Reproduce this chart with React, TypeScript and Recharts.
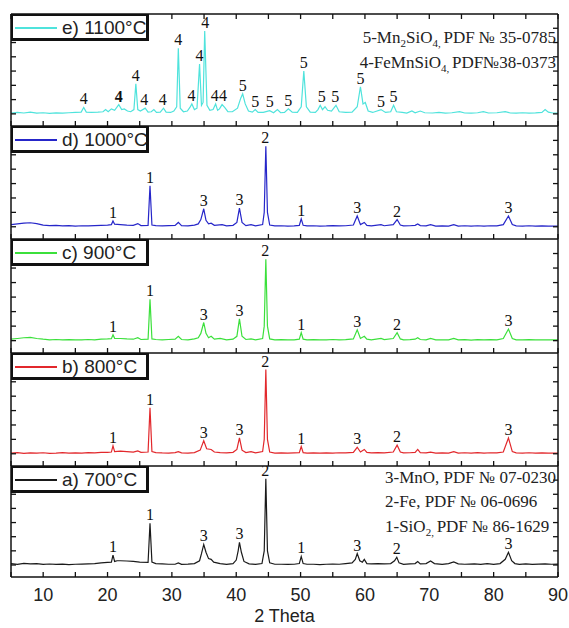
import React from 'react';
import { ComposedChart, Line, Scatter, XAxis, YAxis } from 'recharts';

// 2 Theta ticks (every 5 deg, labels on tens) and intensity ticks (arb. units)
const xTicks = [5, 10, 15, 20, 25, 30, 35, 40, 45, 50, 55, 60, 65, 70, 75, 80, 85, 90];
const yTicks = [0, 1, 2, 3, 4, 5, 6];

const legendLabels = ['e) 1100°C', 'd) 1000°C', 'c) 900°C', 'b) 800°C', 'a) 700°C'];
const seriesColors = ['#4fe3dc', '#2626c9', '#3be03b', '#e2282c', '#1a1a1a'];

type Pt = [number, number];

const pattern1100: Pt[] = [
  [5, 0.05], [6, 0.1], [7, 0.06], [8, 0.12], [9, 0.05], [10, 0.08], [11, 0.04], [12, 0.07], [13, 0.05],
  [14, 0.08], [15, 0.1], [15.9, 0.12], [16.3, 0.45], [16.7, 0.12], [17.5, 0.1], [18.5, 0.12], [19.3, 0.15],
  [19.7, 0.3], [20.1, 0.15], [20.6, 0.35], [21.1, 0.25], [21.75, 0.65], [22.2, 0.3], [22.6, 0.35], [23.1, 0.2],
  [23.6, 0.15], [24.1, 0.3], [24.4, 2.1], [24.7, 0.3], [25.1, 0.2], [25.85, 0.4], [26.3, 0.12], [26.8, 0.15],
  [27.2, 0.3], [27.6, 0.1], [28.2, 0.12], [28.7, 0.4], [29.1, 0.12], [29.8, 0.1], [30.3, 0.2], [30.75, 0.5],
  [31.0, 4.6], [31.3, 0.4], [31.8, 0.15], [32.4, 0.2], [32.8, 0.45], [33.1, 0.7], [33.5, 0.3], [33.9, 0.4],
  [34.3, 3.5], [34.6, 0.6], [34.85, 0.8], [35.1, 5.8], [35.45, 0.6], [35.9, 0.25], [36.4, 0.3], [36.8, 0.7],
  [37.1, 0.25], [37.4, 0.35], [37.8, 0.65], [38.2, 0.45], [38.7, 0.15], [39.4, 0.15], [40.2, 0.4], [40.7, 1.1],
  [41.0, 1.4], [41.4, 0.7], [41.9, 0.2], [42.5, 0.12], [42.95, 0.3], [43.4, 0.1], [44.2, 0.1], [45.2, 0.22],
  [45.8, 0.08], [46.4, 0.3], [46.9, 0.08], [47.5, 0.1], [48.1, 0.35], [48.7, 0.12], [49.5, 0.1], [50.1, 0.5],
  [50.5, 3.0], [50.9, 0.5], [51.5, 0.12], [52.3, 0.1], [52.7, 0.3], [53.05, 0.6], [53.4, 0.3], [53.8, 0.5],
  [54.2, 0.25], [54.8, 0.2], [55.5, 0.6], [56, 0.15], [57, 0.1], [58, 0.12], [58.8, 0.5], [59.3, 1.9],
  [59.7, 0.7], [60.05, 0.8], [60.5, 0.2], [61.2, 0.1], [62.5, 0.3], [63.2, 0.1], [64, 0.15], [64.45, 0.6],
  [64.9, 0.15], [65.8, 0.1], [66.5, 0.05], [67.3, 0.2], [67.8, 0.08], [68.6, 0.2], [69.3, 0.08], [70.5, 0.06],
  [71.5, 0.1], [72.5, 0.05], [73.5, 0.08], [74.7, 0.15], [75.5, 0.06], [76.5, 0.05], [77.5, 0.08], [78.4, 0.15],
  [79.2, 0.06], [80.5, 0.08], [81.8, 0.15], [82.6, 0.06], [83.5, 0.05], [84.5, 0.08], [85.5, 0.05], [86.5, 0.07],
  [87.5, 0.1], [88, 0.3], [88.5, 0.12], [89.2, 0.06], [90, 0.05],
];

const pattern1000: Pt[] = [
  [5, 0.15], [6, 0.2], [7, 0.25], [8, 0.28], [9, 0.22], [10, 0.12], [11, 0.08], [12, 0.1], [13, 0.06],
  [14, 0.08], [15, 0.05], [16, 0.07], [17, 0.06], [18, 0.08], [19, 0.1], [20, 0.12], [20.6, 0.15],
  [20.85, 0.4], [21.1, 0.18], [22, 0.15], [23, 0.12], [24, 0.1], [24.7, 0.22], [25.2, 0.08], [26.3, 0.1],
  [26.6, 2.85], [26.9, 0.12], [27.5, 0.08], [28.5, 0.06], [29.5, 0.08], [30.5, 0.1], [31, 0.3], [31.5, 0.08],
  [32.5, 0.06], [33.5, 0.12], [34.1, 0.2], [34.5, 0.5], [34.95, 1.25], [35.3, 0.45], [35.7, 0.2], [36.1, 0.25],
  [36.6, 0.1], [37.8, 0.15], [38.5, 0.06], [39.5, 0.1], [40.1, 0.3], [40.5, 1.3], [40.9, 0.3], [41.5, 0.08],
  [42.3, 0.15], [43, 0.06], [44.1, 0.15], [44.35, 1.0], [44.6, 5.6], [44.85, 1.0], [45.2, 0.12], [46, 0.06],
  [47, 0.07], [48, 0.05], [49, 0.06], [49.8, 0.1], [50.1, 0.55], [50.4, 0.1], [51, 0.06], [52, 0.07],
  [53, 0.05], [54, 0.06], [55, 0.08], [56, 0.06], [57, 0.07], [58.2, 0.12], [58.8, 0.75], [59.3, 0.15],
  [59.9, 0.3], [60.3, 0.1], [61, 0.06], [62.5, 0.15], [63, 0.07], [64.4, 0.15], [65, 0.5], [65.5, 0.12],
  [66, 0.06], [67, 0.07], [67.8, 0.1], [68.2, 0.2], [68.6, 0.08], [69.5, 0.06], [70.2, 0.15], [71, 0.05],
  [72, 0.06], [73, 0.05], [73.8, 0.15], [74.5, 0.05], [75.5, 0.07], [76.5, 0.04], [77.5, 0.07], [78.5, 0.05],
  [79.5, 0.07], [80.5, 0.06], [81.5, 0.15], [82.3, 0.75], [82.9, 0.15], [83.5, 0.06], [84.5, 0.05], [85.5, 0.07],
  [86.5, 0.05], [87.5, 0.06], [88.5, 0.05], [90, 0.05],
];

const pattern900: Pt[] = [
  [5, 0.1], [6, 0.15], [7, 0.2], [8, 0.22], [9, 0.15], [10, 0.1], [11, 0.06], [12, 0.08], [13, 0.05],
  [14, 0.07], [15, 0.05], [16, 0.06], [17, 0.08], [18, 0.06], [19, 0.1], [20, 0.12], [20.6, 0.14],
  [20.85, 0.4], [21.1, 0.16], [22, 0.15], [23, 0.12], [24, 0.1], [24.7, 0.2], [25.2, 0.08], [26.3, 0.1],
  [26.6, 2.85], [26.9, 0.12], [27.5, 0.08], [28.5, 0.06], [29.5, 0.08], [30.5, 0.1], [31, 0.3], [31.5, 0.08],
  [32.5, 0.06], [33.5, 0.12], [34.1, 0.2], [34.5, 0.5], [34.95, 1.25], [35.3, 0.5], [35.7, 0.2], [36.1, 0.3],
  [36.6, 0.1], [37.5, 0.15], [38.5, 0.06], [39.5, 0.1], [40.1, 0.3], [40.5, 1.5], [40.9, 0.3], [41.5, 0.08],
  [42.3, 0.12], [43, 0.06], [44.1, 0.15], [44.35, 1.0], [44.6, 5.6], [44.85, 1.0], [45.2, 0.12], [46, 0.06],
  [47, 0.07], [48, 0.05], [49, 0.06], [49.8, 0.1], [50.1, 0.55], [50.4, 0.1], [51, 0.06], [52, 0.07],
  [53, 0.05], [54, 0.06], [55, 0.08], [56, 0.06], [57, 0.07], [58.2, 0.12], [58.8, 0.75], [59.3, 0.15],
  [59.9, 0.3], [60.3, 0.1], [61, 0.06], [62.5, 0.15], [63, 0.07], [64.4, 0.15], [65, 0.55], [65.5, 0.12],
  [66, 0.06], [67, 0.07], [67.8, 0.1], [68.2, 0.2], [68.6, 0.08], [69.5, 0.06], [70.2, 0.15], [71, 0.05],
  [72, 0.06], [73, 0.05], [73.8, 0.15], [74.5, 0.05], [75.5, 0.07], [76.5, 0.04], [77.5, 0.07], [78.5, 0.05],
  [79.5, 0.07], [80.5, 0.06], [81.5, 0.15], [82.3, 0.8], [82.9, 0.15], [83.5, 0.06], [84.5, 0.05], [85.5, 0.07],
  [86.5, 0.05], [87.5, 0.06], [88.5, 0.05], [90, 0.05],
];

const pattern800: Pt[] = [
  [5, 0.05], [6, 0.08], [7, 0.03], [8, 0.06], [9, 0.04], [10, 0.07], [11, 0.03], [12, 0.05], [13, 0.08],
  [14, 0.04], [15, 0.06], [16, 0.05], [17, 0.08], [18, 0.06], [19, 0.1], [20, 0.1], [20.6, 0.12],
  [20.85, 0.55], [21.1, 0.15], [22, 0.18], [23, 0.15], [24, 0.12], [24.7, 0.2], [25.2, 0.1], [26.3, 0.12],
  [26.6, 3.2], [26.9, 0.15], [27.5, 0.08], [28.5, 0.06], [29.5, 0.05], [30.5, 0.08], [31, 0.15], [31.5, 0.06],
  [32.5, 0.05], [33.5, 0.08], [34.4, 0.25], [34.95, 0.9], [35.4, 0.35], [36.1, 0.3], [36.6, 0.12], [37.5, 0.08],
  [38.5, 0.06], [39.5, 0.1], [40.1, 0.3], [40.5, 1.1], [40.9, 0.25], [41.5, 0.08], [42.3, 0.15], [43, 0.06],
  [44.1, 0.15], [44.35, 1.0], [44.6, 5.85], [44.85, 1.0], [45.2, 0.12], [46, 0.05], [47, 0.06], [48, 0.04],
  [49, 0.06], [49.8, 0.08], [50.1, 0.5], [50.4, 0.08], [51, 0.05], [52, 0.06], [53, 0.04], [54, 0.06],
  [55, 0.05], [56, 0.07], [57, 0.06], [58.2, 0.1], [58.8, 0.45], [59.3, 0.12], [59.9, 0.3], [60.3, 0.1],
  [61, 0.06], [62, 0.08], [63, 0.06], [64.4, 0.12], [65, 0.6], [65.5, 0.12], [66, 0.06], [67, 0.07],
  [67.8, 0.1], [68.2, 0.3], [68.6, 0.08], [69.5, 0.06], [70.2, 0.12], [71, 0.05], [72, 0.06], [73, 0.05],
  [73.8, 0.15], [74.5, 0.05], [75.5, 0.07], [76.5, 0.04], [77.5, 0.08], [78.5, 0.05], [79.5, 0.07], [80.5, 0.06],
  [81.5, 0.12], [82.3, 1.1], [82.9, 0.15], [83.5, 0.06], [84.5, 0.05], [85.5, 0.07], [86.5, 0.04], [87.5, 0.06],
  [88.5, 0.05], [90, 0.05],
];

const pattern700: Pt[] = [
  [5, 0.1], [6, 0.05], [7, 0.12], [8, 0.08], [9, 0.1], [10, 0.05], [11, 0.07], [12, 0.04], [13, 0.06],
  [14, 0.03], [15, 0.05], [16, 0.06], [17, 0.08], [18, 0.1], [19, 0.15], [20, 0.18], [20.6, 0.2],
  [20.85, 0.7], [21.1, 0.25], [21.5, 0.3], [22, 0.3], [23, 0.28], [24, 0.25], [25, 0.2], [26.3, 0.18],
  [26.6, 2.95], [26.9, 0.2], [27.5, 0.1], [28.5, 0.08], [29.5, 0.05], [30.5, 0.05], [31, 0.15], [31.5, 0.05],
  [32.5, 0.06], [33.5, 0.1], [34.3, 0.3], [34.6, 0.8], [34.95, 1.45], [35.3, 0.9], [35.7, 0.45], [36.1, 0.4],
  [36.5, 0.2], [37.5, 0.1], [38.5, 0.05], [39.5, 0.1], [40.0, 0.35], [40.3, 1.0], [40.5, 1.6], [40.8, 0.9],
  [41.2, 0.25], [42, 0.08], [43, 0.05], [44.0, 0.1], [44.35, 1.0], [44.6, 6.1], [44.85, 1.0], [45.2, 0.15],
  [46, 0.05], [47, 0.05], [48, 0.04], [49, 0.05], [49.8, 0.1], [50.1, 0.6], [50.4, 0.1], [51, 0.05],
  [52, 0.05], [53, 0.03], [54, 0.05], [55, 0.06], [56, 0.05], [57, 0.1], [58, 0.15], [58.5, 0.4],
  [58.8, 0.8], [59.2, 0.3], [59.6, 0.2], [59.9, 0.4], [60.3, 0.1], [61, 0.08], [62, 0.1], [63, 0.08],
  [64, 0.1], [64.6, 0.3], [64.95, 0.55], [65.3, 0.15], [66, 0.05], [67, 0.08], [67.8, 0.1], [68.2, 0.25],
  [68.6, 0.08], [69.5, 0.1], [70.2, 0.28], [70.8, 0.1], [72, 0.05], [73, 0.1], [73.8, 0.22], [74.5, 0.08],
  [75.5, 0.05], [77, 0.08], [78, 0.05], [79, 0.1], [80, 0.05], [81, 0.1], [81.8, 0.4], [82.3, 0.9],
  [82.8, 0.3], [83.3, 0.1], [84, 0.05], [85, 0.08], [86, 0.04], [87, 0.06], [88, 0.08], [89, 0.05], [90, 0.06],
];

// peak labels: [2 theta, intensity at label, phase number]
type Mark = [number, number, string];

const peaks1100: Mark[] = [
  [16.3, 0.45, '4'], [21.75, 0.65, '4'], [24.4, 2.1, '4'], [25.7, 0.4, '4'], [28.6, 0.4, '4'],
  [31.0, 4.6, '4'], [33.05, 0.7, '4'], [34.3, 3.5, '4'], [35.2, 5.8, '4'], [36.65, 0.7, '4'],
  [37.95, 0.7, '4'], [41.0, 1.4, '5'], [42.95, 0.3, '5'], [45.2, 0.25, '5'], [48.1, 0.35, '5'],
  [50.5, 3.0, '5'], [53.3, 0.6, '5'], [55.4, 0.6, '5'], [59.3, 1.9, '5'], [62.5, 0.3, '5'],
  [64.45, 0.6, '5'],
];
const boldPeak1100 = 21.75;

const peaks1000: Mark[] = [
  [20.85, 0.4, '1'], [26.6, 2.85, '1'], [34.95, 1.25, '3'], [40.5, 1.3, '3'], [44.5, 5.6, '2'],
  [50.1, 0.55, '1'], [58.8, 0.75, '3'], [65.0, 0.5, '2'], [82.3, 0.75, '3'],
];
const peaks900: Mark[] = [
  [20.85, 0.4, '1'], [26.6, 2.85, '1'], [34.95, 1.25, '3'], [40.5, 1.5, '3'], [44.5, 5.6, '2'],
  [50.1, 0.55, '1'], [58.8, 0.75, '3'], [65.0, 0.55, '2'], [82.3, 0.8, '3'],
];
const peaks800: Mark[] = [
  [20.85, 0.55, '1'], [26.6, 3.2, '1'], [34.95, 0.9, '3'], [40.5, 1.1, '3'], [44.5, 5.85, '2'],
  [50.1, 0.5, '1'], [58.8, 0.5, '3'], [65.0, 0.6, '2'], [82.3, 1.1, '3'],
];
const peaks700: Mark[] = [
  [20.85, 0.7, '1'], [26.6, 2.95, '1'], [34.95, 1.45, '3'], [40.5, 1.6, '3'], [44.5, 6.1, '2'],
  [50.1, 0.6, '1'], [58.8, 0.8, '3'], [64.95, 0.55, '2'], [82.3, 0.9, '3'],
];

const patterns = [pattern1100, pattern1000, pattern900, pattern800, pattern700];
const peakMarks = [peaks1100, peaks1000, peaks900, peaks800, peaks700];

// plot top / bottom of each panel, in page pixels
const panelTops = [14, 126, 239, 353, 466];
const panelBottoms = [126, 239, 353, 466, 577];

const W = 569;
const AXIS_H = 51;
const HEADROOM = 14; // extra svg space above each panel so peak labels are not clipped
const serif = '"Liberation Serif", "Times New Roman", serif';
const sans = '"Liberation Sans", Arial, sans-serif';

const XTick = (props: any) => {
  const { x, y, payload, dir, showLabel } = props;
  const v = payload.value;
  return (
    <g>
      <line x1={x} x2={x} y1={y} y2={y + dir * 5} stroke="#111" strokeWidth={1.3} />
      {showLabel && v % 10 === 0 && (
        <text x={x} y={y + 24} textAnchor="middle" fontFamily={sans} fontSize={18} fill="#222">
          {v}
        </text>
      )}
    </g>
  );
};

const YTick = (props: any) => {
  const { x, y, dir } = props;
  return <line x1={x} x2={x + dir * 5} y1={y} y2={y} stroke="#111" strokeWidth={1.3} />;
};

const PeakLabel = (props: any) => {
  const { cx, cy, payload } = props;
  if (cx == null || cy == null) return null;
  return (
    <text
      x={cx}
      y={cy - 3}
      textAnchor="middle"
      fontFamily={serif}
      fontSize={16}
      fontWeight={payload.bold ? 'bold' : 'normal'}
      fill="#111"
    >
      {payload.label}
    </text>
  );
};

function Panel({ index }: { index: number }) {
  const top = panelTops[index];
  const bottom = panelBottoms[index];
  const first = index === 0;
  const last = index === patterns.length - 1;
  const chartTop = first ? 0 : top - HEADROOM;
  const height = bottom - chartTop + (last ? AXIS_H : 1);
  const data = patterns[index].map(([x, y]) => ({ x, y }));
  const marks = peakMarks[index].map(([x, y, label]) => ({
    x,
    y,
    label,
    bold: index === 0 && x === boldPeak1100,
  }));
  const axisLine = { stroke: '#111', strokeWidth: 1.5 };

  return (
    <div style={{ position: 'absolute', left: 0, top: chartTop }}>
      <ComposedChart
        width={W}
        height={height}
        margin={{ top: first ? top - 1 : HEADROOM, right: 10, bottom: 0, left: 10 }}
      >
        <XAxis
          dataKey="x"
          type="number"
          domain={[5, 90]}
          ticks={xTicks}
          interval={0}
          allowDataOverflow
          height={last ? AXIS_H : 1}
          tickSize={0}
          tickMargin={0}
          tickLine={false}
          axisLine={axisLine}
          tick={(p: any) => <XTick {...p} dir={-1} showLabel={last} />}
          label={
            last
              ? { value: '2 Theta', position: 'insideBottom', offset: 6, fontFamily: sans, fontSize: 18, fill: '#222' }
              : undefined
          }
        />
        {first && (
          <XAxis
            xAxisId="top"
            orientation="top"
            dataKey="x"
            type="number"
            domain={[5, 90]}
            ticks={xTicks}
            interval={0}
            allowDataOverflow
            height={1}
            tickSize={0}
            tickMargin={0}
            tickLine={false}
            axisLine={axisLine}
            tick={(p: any) => <XTick {...p} dir={1} showLabel={false} />}
          />
        )}
        <YAxis
          yAxisId="l"
          dataKey="y"
          type="number"
          domain={[-0.85, 7]}
          ticks={yTicks}
          interval={0}
          allowDataOverflow
          width={1}
          tickSize={0}
          tickMargin={0}
          tickLine={false}
          axisLine={axisLine}
          tick={(p: any) => <YTick {...p} dir={1} />}
        />
        <YAxis
          yAxisId="r"
          orientation="right"
          dataKey="y"
          type="number"
          domain={[-0.85, 7]}
          ticks={yTicks}
          interval={0}
          allowDataOverflow
          width={1}
          tickSize={0}
          tickMargin={0}
          tickLine={false}
          axisLine={axisLine}
          tick={(p: any) => <YTick {...p} dir={-1} />}
        />
        <Line
          yAxisId="l"
          data={data}
          dataKey="y"
          type="linear"
          stroke={seriesColors[index]}
          strokeWidth={1.2}
          dot={false}
          isAnimationActive={false}
        />
        <Scatter
          yAxisId="l"
          data={marks}
          dataKey="y"
          shape={PeakLabel}
          isAnimationActive={false}
        />
      </ComposedChart>
    </div>
  );
}

function LegendBox({ index }: { index: number }) {
  return (
    <div
      style={{
        position: 'absolute',
        left: 11,
        top: panelTops[index],
        width: 138,
        height: 27,
        boxSizing: 'border-box',
        border: '2px solid #111',
        borderRightWidth: 3,
        borderBottomWidth: 3,
        background: '#fff',
      }}
    >
      <div
        style={{
          position: 'absolute',
          left: 2,
          top: 11,
          width: 42,
          height: 1.5,
          background: seriesColors[index],
        }}
      />
      <div
        style={{
          position: 'absolute',
          left: 49,
          top: 0,
          lineHeight: '23px',
          fontFamily: sans,
          fontSize: 19,
          color: '#222',
          whiteSpace: 'nowrap',
        }}
      >
        {legendLabels[index]}
      </div>
    </div>
  );
}

const phaseText: React.CSSProperties = {
  position: 'absolute',
  fontFamily: serif,
  fontSize: 17,
  color: '#222',
  whiteSpace: 'nowrap',
  lineHeight: '20px',
};

export default function App() {
  return (
    <div style={{ position: 'absolute', left: 0, top: 0, width: W, height: 628, background: '#fff' }}>
      {patterns.map((_, i) => (
        <Panel key={i} index={i} />
      ))}
      {patterns.map((_, i) => (
        <LegendBox key={'lg' + i} index={i} />
      ))}
      <div style={{ ...phaseText, right: 13, top: 28, textAlign: 'right' }}>
        5-Mn<sub style={{ fontSize: 11 }}>2</sub>SiO<sub style={{ fontSize: 11 }}>4, </sub>PDF № 35-0785
      </div>
      <div style={{ ...phaseText, right: 13, top: 53, textAlign: 'right' }}>
        4-FeMnSiO<sub style={{ fontSize: 11 }}>4, </sub>PDF№38-0373
      </div>
      <div style={{ ...phaseText, left: 385, top: 468 }}>3-MnO, PDF № 07-0230</div>
      <div style={{ ...phaseText, left: 385, top: 492 }}>2-Fe, PDF № 06-0696</div>
      <div style={{ ...phaseText, left: 385, top: 517 }}>
        1-SiO<sub style={{ fontSize: 11 }}>2, </sub>PDF № 86-1629
      </div>
    </div>
  );
}
